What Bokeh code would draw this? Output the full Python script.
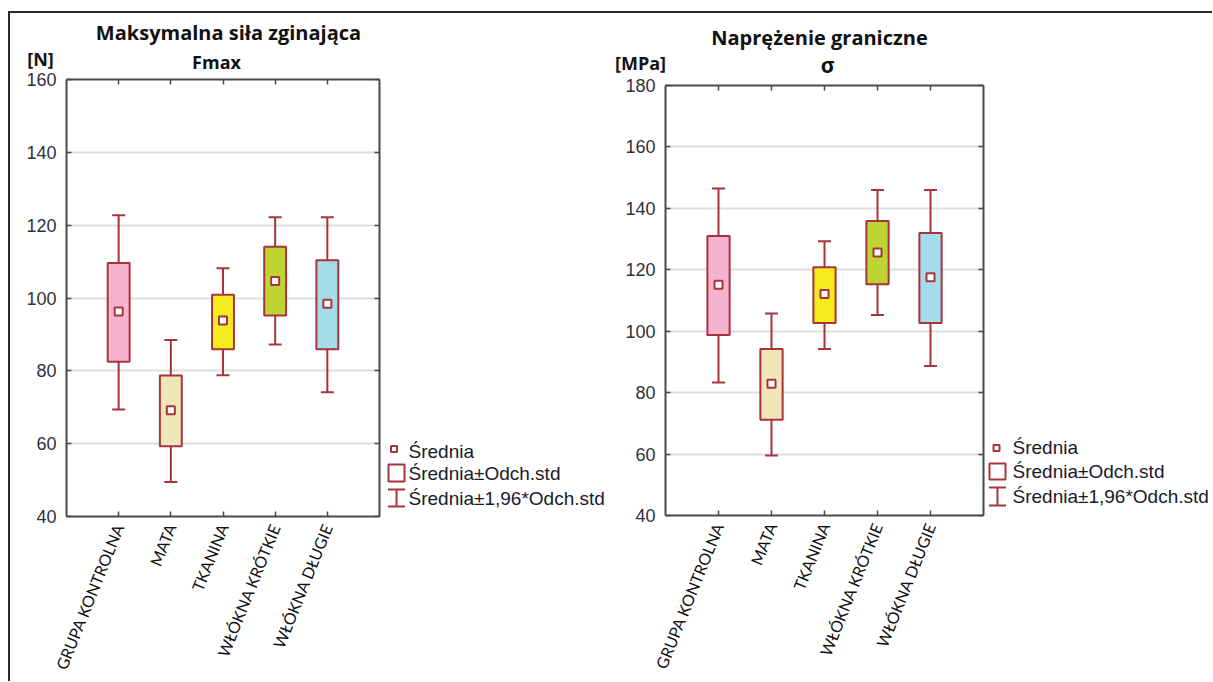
import math
from bokeh.plotting import figure
from bokeh.models import (FactorRange, Range1d, LinearAxis, CategoricalAxis, SingleIntervalTicker,
                          Label, BoxAnnotation, Arrow, TeeHead, ColumnDataSource,
                          CustomLabelingPolicy)
from bokeh.layouts import row, column
from bokeh.embed import file_html
from bokeh.resources import INLINE

# ---------------- data ----------------
categories = ["GRUPA KONTROLNA", "MATA", "TKANINA", "WŁÓKNA KRÓTKIE", "WŁÓKNA DŁUGIE"]
box_colors = ["#F6B3CF", "#F1E6B9", "#F5EB1E", "#BDD432", "#A4DCEC"]

# Maksymalna siła zginająca Fmax [N]
f_mean = [96.3, 69.2, 93.8, 104.7, 98.4]
f_std_lo = [82.5, 59.3, 85.9, 95.2, 85.9]
f_std_hi = [109.6, 78.7, 100.9, 114.1, 110.4]
f_ci_lo = [69.4, 49.5, 78.8, 87.2, 74.1]
f_ci_hi = [122.7, 88.5, 108.2, 122.2, 122.2]

# Naprężenie graniczne sigma [MPa]
s_mean = [115.1, 82.9, 112.1, 125.6, 117.6]
s_std_lo = [98.8, 71.2, 102.7, 115.3, 102.7]
s_std_hi = [131.0, 94.2, 120.8, 135.9, 132.0]
s_ci_lo = [83.3, 59.5, 94.2, 105.3, 88.7]
s_ci_hi = [146.5, 105.8, 129.3, 146.0, 146.0]

legend_texts = ["Średnia", "Średnia±Odch.std", "Średnia±1,96*Odch.std"]

RED = "#A8343B"
AXIS = "#4a4a4a"
TITLE_FONT = "Open Sans"
CAT_FONT = "Lato"
NUM_FONT = "Liberation Sans"

hide_labels = CustomLabelingPolicy(code="for (const i of indices) indices.unset(i)")

# page geometry (pixels): content origin after border
OX, OY = 10, 13
HDR_H = 69                 # header canvas: 13 .. 82
ROW_Y = 68                 # plot row starts here (overlaps header a little)
ROW_H = 613                # .. 681
OVERLAP = (OY + HDR_H) - ROW_Y


def common(f, transparent=True):
    if "frame_align" in f.properties():
        f.frame_align = False
    f.background_fill_color = "white"
    f.border_fill_color = None if transparent else "white"
    f.outline_line_color = None


def make_plot(x_left, width, frame, yr, mean, slo, shi, clo, chi):
    L, R, T, B = frame
    p = figure(width=width, height=ROW_H,
               x_range=FactorRange(factors=categories, range_padding=0.2),
               y_range=Range1d(*yr),
               output_backend="svg", toolbar_location=None,
               min_border_left=L - x_left, min_border_right=(x_left + width) - R,
               min_border_top=T - ROW_Y, min_border_bottom=(ROW_Y + ROW_H) - B)
    common(p)

    p.yaxis.ticker = SingleIntervalTicker(interval=20, num_minor_ticks=0)
    for ax in [p.yaxis[0], p.xaxis[0]]:
        ax.axis_line_color = AXIS
        ax.axis_line_width = 2
        ax.major_tick_in = 5
        ax.major_tick_out = 0
        ax.major_tick_line_color = AXIS
        ax.major_tick_line_width = 1.5
        ax.minor_tick_line_color = None
    p.yaxis.major_label_text_font = NUM_FONT
    p.yaxis.major_label_text_font_size = "18px"
    p.yaxis.major_label_text_color = "#2f3040"
    p.yaxis.major_label_standoff = 10
    p.xaxis.major_label_text_font = CAT_FONT
    p.xaxis.major_label_text_font_size = "16px"
    p.xaxis.major_label_text_color = "#111111"
    p.xaxis.major_label_orientation = math.radians(68)
    p.xaxis.major_label_standoff = 8

    ra = LinearAxis(ticker=SingleIntervalTicker(interval=20, num_minor_ticks=0),
                    major_label_policy=hide_labels,
                    major_label_overrides={v: "" for v in range(0, 201, 20)},
                    major_label_text_font_size="1px", major_label_standoff=0,
                    axis_line_color=AXIS, axis_line_width=2,
                    major_tick_in=5, major_tick_out=0, major_tick_line_color=AXIS,
                    major_tick_line_width=1.5, minor_tick_line_color=None)
    p.add_layout(ra, "right")
    ta = CategoricalAxis(major_label_policy=hide_labels,
                         major_label_overrides={c: "" for c in categories},
                         major_label_text_font_size="1px", major_label_standoff=0,
                         axis_line_color=AXIS, axis_line_width=2,
                         major_tick_in=5, major_tick_out=0, major_tick_line_color=AXIS,
                         major_tick_line_width=1.5)
    p.add_layout(ta, "above")

    p.xgrid.grid_line_color = None
    p.ygrid.grid_line_color = "#DEDEDE"
    p.ygrid.grid_line_width = 2

    src = ColumnDataSource(dict(cat=categories, mean=mean, slo=slo, shi=shi,
                                clo=clo, chi=chi, color=box_colors))
    p.segment(x0="cat", y0="clo", x1="cat", y1="chi", source=src,
              line_color=RED, line_width=2)
    p.scatter(x="cat", y="chi", marker="dash", size=13, source=src,
              line_color=RED, line_width=2)
    p.scatter(x="cat", y="clo", marker="dash", size=13, source=src,
              line_color=RED, line_width=2)
    p.vbar(x="cat", bottom="slo", top="shi", width=0.42, source=src,
           fill_color="color", line_color=RED, line_width=2)
    p.scatter(x="cat", y="mean", marker="square", size=8, source=src,
              fill_color="white", line_color=RED, line_width=2)
    return p


def make_legend(x_left, width, frame, leg):
    L, R, T, B = frame
    f = figure(width=width, height=ROW_H,
               x_range=Range1d(x_left, x_left + width), y_range=Range1d(-B, -T),
               x_axis_type=None, y_axis_type=None,
               output_backend="svg", toolbar_location=None,
               min_border_left=0, min_border_right=0,
               min_border_top=T - ROW_Y, min_border_bottom=(ROW_Y + ROW_H) - B)
    common(f)
    f.background_fill_color = None
    mx, my, bx0, bx1, by0, by1, ix, iy0, iy1, tx, ty = leg
    f.add_layout(BoxAnnotation(left=mx - 3, right=mx + 3, top=-(my - 3), bottom=-(my + 3),
                               fill_color="white", fill_alpha=1, line_color=RED, line_width=2,
                               line_alpha=1))
    f.add_layout(BoxAnnotation(left=bx0, right=bx1, top=-by0, bottom=-by1,
                               fill_color="white", fill_alpha=1, line_color=RED, line_width=2,
                               line_alpha=1))
    f.add_layout(Arrow(start=TeeHead(size=17, line_color=RED, line_width=2),
                       end=TeeHead(size=17, line_color=RED, line_width=2),
                       x_start=ix, y_start=-iy0, x_end=ix, y_end=-iy1,
                       line_color=RED, line_width=2))
    for t, yy in zip(legend_texts, ty):
        f.add_layout(Label(x=tx, y=-yy, text=t, text_align="left", text_baseline="middle",
                           text_font=NUM_FONT, text_font_size="19px", text_color="#1a1a2a"))
    return f


# header with titles
hdr = figure(width=1202, height=HDR_H,
             x_range=Range1d(OX, OX + 1202), y_range=Range1d(-(OY + HDR_H), -OY),
             x_axis_type=None, y_axis_type=None, output_backend="svg",
             toolbar_location=None, min_border=0)
common(hdr, transparent=False)
header_texts = [
    ("Maksymalna siła zginająca", 228, 32, "20px"),
    ("Fmax", 216, 61, "18px"),
    ("[N]", 40, 58, "18px"),
    ("Naprężenie graniczne", 819, 37, "20px"),
    ("σ", 827, 64, "21px"),
    ("[MPa]", 640, 62, "18px"),
]
for t, x, y, fs in header_texts:
    hdr.add_layout(Label(x=x, y=-y, text=t, text_align="center", text_baseline="middle",
                         text_font=TITLE_FONT, text_font_style="bold",
                         text_font_size=fs, text_color="#111111"))

F1 = (66, 379, 79, 516)
F2 = (665, 983, 85, 515)
W_P1, W_L1, W_P2, W_L2 = 372, 226, 378, 226

p1 = make_plot(OX, W_P1, F1, (40, 160), f_mean, f_std_lo, f_std_hi, f_ci_lo, f_ci_hi)
l1 = make_legend(OX + W_P1, W_L1, F1,
                 (393.5, 448.5, 388, 404, 464, 481, 396, 489, 506, 408, (450.5, 473, 497.5)))
p2 = make_plot(OX + W_P1 + W_L1, W_P2, F2, (40, 180),
               s_mean, s_std_lo, s_std_hi, s_ci_lo, s_ci_hi)
l2 = make_legend(OX + W_P1 + W_L1 + W_P2, W_L2, F2,
                 (996, 447.5, 989, 1005, 463, 479, 997, 487, 505, 1012, (447, 471, 495.5)))

plots = row(p1, l1, p2, l2, margin=(-OVERLAP, 0, 0, 0))
layout = column(hdr, plots, margin=(11, 0, 0, 8),
                styles={"border-top": "2px solid #2a2a2a", "border-left": "2px solid #2a2a2a"})

open("out.html", "w").write(file_html(layout, INLINE))
